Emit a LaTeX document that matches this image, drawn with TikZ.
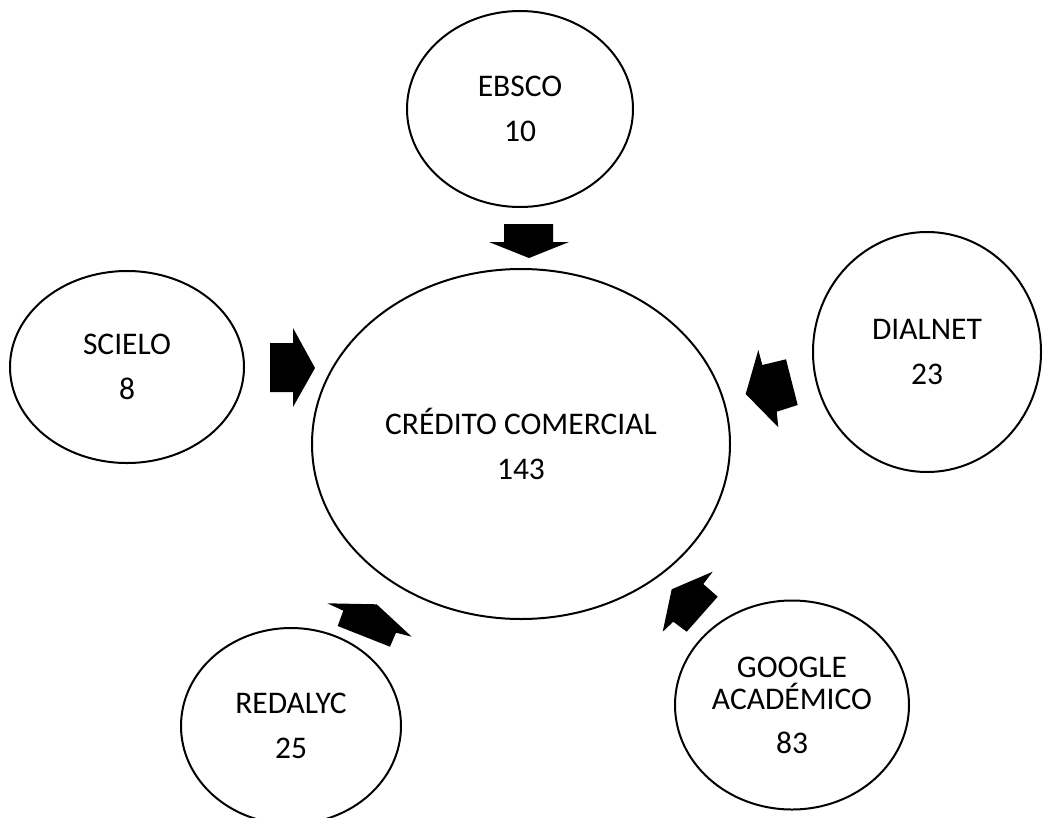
\documentclass[tikz,border=0pt]{standalone}
\usepackage{fontspec}
\setmainfont{Carlito}
\usetikzlibrary{shapes.geometric}
\begin{document}
\begin{tikzpicture}[x=1pt,y=-1pt,
  bubble/.style={draw=black, line width=2pt, ellipse, inner sep=0pt, align=center,
                 font=\fontsize{31.5}{45}\selectfont},
  blockarrow/.style={fill=black, draw=none}]
\useasboundingbox (0,0) rectangle (1044,817);
% nodes
\node[bubble, minimum width=418pt, minimum height=350pt] (cc) at (521,444) {CRÉDITO COMERCIAL\\143};
\node[bubble, minimum width=226pt, minimum height=196pt] (ebsco) at (520,109) {EBSCO\\10};
\node[bubble, minimum width=234pt, minimum height=192pt] (scielo) at (127,367) {SCIELO\\8};
\node[bubble, minimum width=228pt, minimum height=240pt] (dialnet) at (927,352) {DIALNET\\23};
\node[bubble, minimum width=234pt, minimum height=209pt, font=\fontsize{31.5}{32}\selectfont] (google) at (792,705) {GOOGLE\\ACADÉMICO\\[12pt]83};
\node[bubble, minimum width=220pt, minimum height=196pt] (redalyc) at (291,726) {REDALYC\\25};
% block arrows
\fill[blockarrow] (504,224) -- (553,224) -- (553,242) -- (569,242) -- (529,258) -- (489,242) -- (504,242) -- cycle;
\fill[blockarrow] (270,343) -- (293,343) -- (293,328) -- (315,368) -- (293,407) -- (293,392) -- (270,392) -- cycle;
\fill[blockarrow] (745.7,394) -- (758.3,350) -- (762.3,365) -- (786,359.3) -- (797.7,405) -- (776.7,411.7) -- (778.3,427.3) -- cycle;
\fill[blockarrow] (671.7,589.3) -- (712.7,571.7) -- (703.3,584) -- (717.7,596.7) -- (686.7,631.7) -- (673.3,621.7) -- (662.7,631.7) -- cycle;
\fill[blockarrow] (376.7,604.3) -- (411.7,636.7) -- (396,632.7) -- (390,646.7) -- (337.7,626) -- (343.3,610.7) -- (327.3,603.3) -- cycle;
\end{tikzpicture}
\end{document}
